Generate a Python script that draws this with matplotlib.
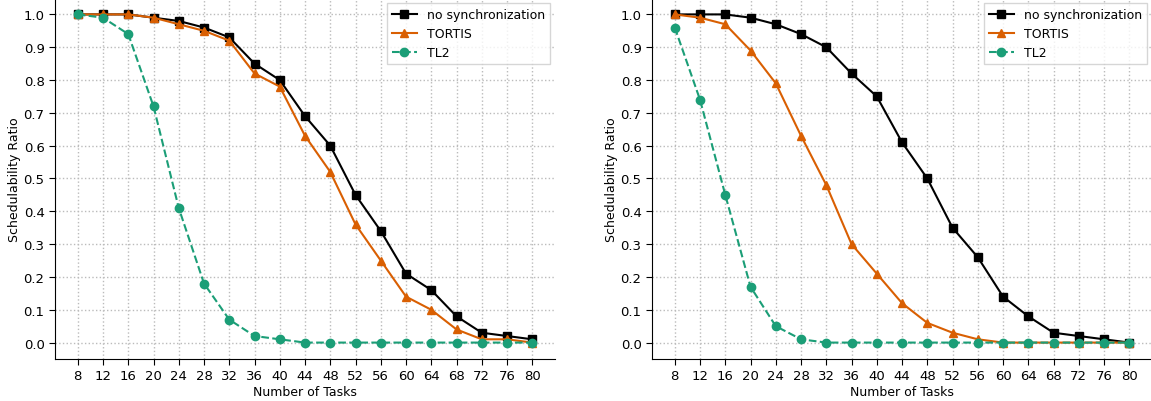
import matplotlib.pyplot as plt

tasks = [8, 12, 16, 20, 24, 28, 32, 36, 40, 44, 48, 52, 56, 60, 64, 68, 72, 76, 80]

# left panel
nosync_a = [1.0, 1.0, 1.0, 0.99, 0.98, 0.96, 0.93, 0.85, 0.80, 0.69, 0.60, 0.45, 0.34, 0.21, 0.16, 0.08, 0.03, 0.02, 0.01]
tortis_a = [1.0, 1.0, 1.0, 0.99, 0.97, 0.95, 0.92, 0.82, 0.78, 0.63, 0.52, 0.36, 0.25, 0.14, 0.10, 0.04, 0.01, 0.01, 0.0]
tl2_a = [1.0, 0.99, 0.94, 0.72, 0.41, 0.18, 0.07, 0.02, 0.01, 0, 0, 0, 0, 0, 0, 0, 0, 0, 0]

# right panel
nosync_b = [1.0, 1.0, 1.0, 0.99, 0.97, 0.94, 0.90, 0.82, 0.75, 0.61, 0.50, 0.35, 0.26, 0.14, 0.08, 0.03, 0.02, 0.01, 0.0]
tortis_b = [1.0, 0.99, 0.97, 0.89, 0.79, 0.63, 0.48, 0.30, 0.21, 0.12, 0.06, 0.03, 0.01, 0, 0, 0, 0, 0, 0]
tl2_b = [0.96, 0.74, 0.45, 0.17, 0.05, 0.01, 0, 0, 0, 0, 0, 0, 0, 0, 0, 0, 0, 0, 0]

yticks = [i / 10 for i in range(11)]

fig = plt.figure(figsize=(11.51, 4.02), dpi=100)
ax1 = fig.add_axes([0.0478, 0.1045, 0.4344, 0.898])
ax2 = fig.add_axes([0.5665, 0.1045, 0.4344, 0.898])

for ax, ns, tt, tl in [(ax1, nosync_a, tortis_a, tl2_a), (ax2, nosync_b, tortis_b, tl2_b)]:
    ax.plot(tasks, ns, color='black', marker='s', ms=6, lw=1.5, label='no synchronization')
    ax.plot(tasks, tt, color='#d95f02', marker='^', ms=6, lw=1.5, label='TORTIS')
    ax.plot(tasks, tl, color='#1b9e77', marker='o', ms=6, lw=1.5, ls='--', label='TL2')
    ax.set_xlim(4.4, 83.6)
    ax.set_ylim(-0.05, 1.05)
    ax.set_xticks(tasks)
    ax.set_yticks(yticks)
    ax.set_yticklabels(['%.1f' % v for v in yticks])
    ax.tick_params(labelsize=9.5, length=4)
    ax.grid(True, ls=':', color='#bbbbbb', lw=1)
    ax.set_axisbelow(True)
    ax.spines['top'].set_visible(False)
    ax.spines['right'].set_visible(False)
    ax.set_xlabel('Number of Tasks', fontsize=9, labelpad=2)
    ax.set_ylabel('Schedulability Ratio', fontsize=9, labelpad=2)
    ax.legend(loc='upper right', fancybox=False, fontsize=9, borderaxespad=0.4)

fig.savefig('out.png', dpi=100)
